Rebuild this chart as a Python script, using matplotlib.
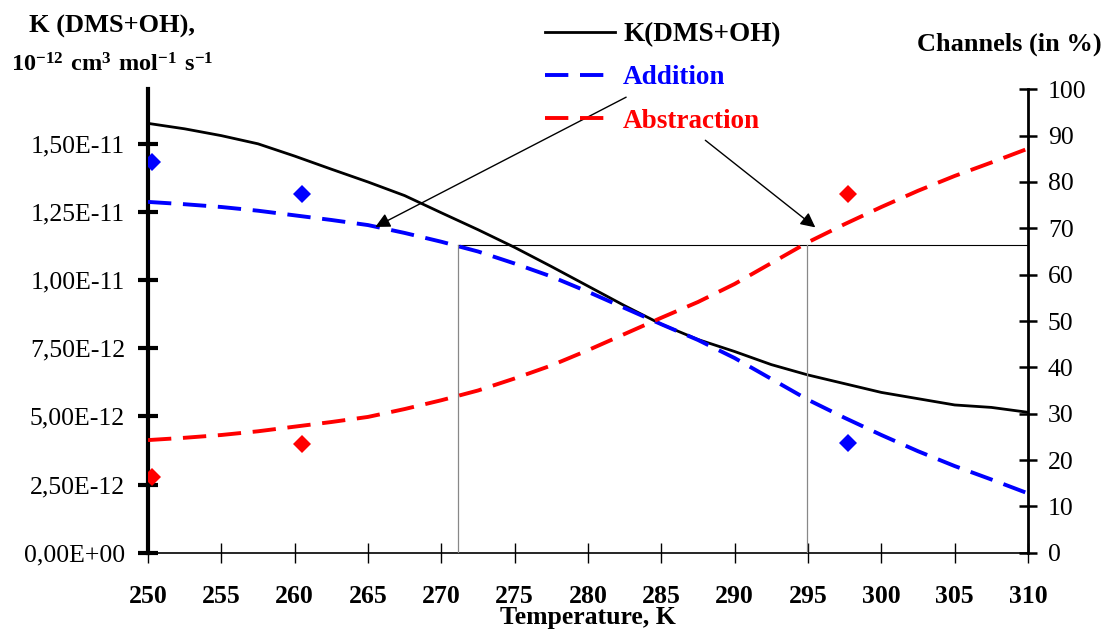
import numpy as np
import matplotlib
matplotlib.use("Agg")
import matplotlib.pyplot as plt
from matplotlib.ticker import FuncFormatter

plt.rcParams['font.family'] = ['Liberation Serif', 'DejaVu Serif']
plt.rcParams['mathtext.fontset'] = 'custom'
plt.rcParams['mathtext.rm'] = 'Liberation Serif'
plt.rcParams['mathtext.bf'] = 'Liberation Serif:bold'

# ---------------- data ----------------
temperature = [250, 252.5, 255, 257.5, 260, 262.5, 265, 267.5, 270, 272.5, 275, 277.5,
               280, 282.5, 285, 287.5, 290, 292.5, 295, 297.5, 300, 302.5, 305, 307.5, 310]
k_total_e12 = [15.75, 15.55, 15.3, 15.0, 14.55, 14.07, 13.6, 13.1, 12.47, 11.85, 11.2, 10.5,
               9.78, 9.06, 8.38, 7.82, 7.38, 6.9, 6.52, 6.2, 5.88, 5.65, 5.42, 5.33, 5.15]
addition_pct = [75.7, 75.2, 74.6, 73.8, 72.8, 71.8, 70.7, 69.0, 67.1, 65.0, 62.4, 59.6,
                56.3, 52.8, 49.3, 45.9, 42.0, 37.5, 33.0, 29.1, 25.4, 21.9, 18.7, 15.8, 12.8]
abstraction_pct = [24.3, 24.8, 25.4, 26.2, 27.2, 28.2, 29.3, 31.0, 32.9, 35.0, 37.6, 40.4,
                   43.7, 47.2, 50.7, 54.1, 58.0, 62.5, 67.0, 70.9, 74.6, 78.1, 81.3, 84.2, 87.2]

exp_temperature = [250.3, 260.5, 297.75]
exp_addition = [84.3, 77.3, 23.6]
exp_abstraction = [16.4, 23.5, 77.3]

# guide lines (channel = 66.3 %)
guide_level = 66.3
guide_temps = [271.15, 294.95]
# arrows: (tip T, tip %, start T, start %)
arrow_add = (265.5, 70.3, 282.6, 98.3)
arrow_abs = (295.5, 70.2, 288.0, 89.0)

x_ticks = list(range(250, 311, 5))
labels = ['K(DMS+OH)', 'Addition', 'Abstraction']
label_colors = ['black', 'blue', 'red']

# ---------------- figure ----------------
W, H = 1103, 633
fig = plt.figure(figsize=(W / 100, H / 100), dpi=100)
x0, x1, yb, yt = 148, 1028, 552.7, 89.3
ax = fig.add_axes([x0 / W, 1 - yb / H, (x1 - x0) / W, (yb - yt) / H])
ax2 = ax.twinx()

k_total = np.array(k_total_e12) * 1e-12
l_k, = ax.plot(temperature, k_total, color='black', lw=2.0, zorder=3)

l_add, = ax2.plot(temperature, addition_pct, color='blue', lw=2.8, dashes=(6, 3), zorder=3)
l_abs, = ax2.plot(temperature, abstraction_pct, color='red', lw=2.8, dashes=(6, 3), zorder=3)
ax2.plot(exp_temperature, exp_addition, ls='none', marker='D', ms=9, mew=0, color='blue', zorder=4)
ax2.plot(exp_temperature, exp_abstraction, ls='none', marker='D', ms=9, mew=0, color='red', zorder=4)

# guide lines
ax2.plot([guide_temps[0], 310], [guide_level, guide_level], color='black', lw=0.8, zorder=2)
for gt in guide_temps:
    ax2.plot([gt, gt], [0, guide_level], color='#888888', lw=0.9, zorder=2)

for tip_x, tip_y, st_x, st_y in (arrow_add, arrow_abs):
    ax2.annotate('', xy=(tip_x, tip_y), xytext=(st_x, st_y),
                 arrowprops=dict(arrowstyle='-|>', color='black', lw=1.0,
                                 mutation_scale=22, shrinkA=0, shrinkB=0), zorder=5)

# axes limits / ticks
ax.set_xlim(250, 310)
ax.set_ylim(0, 1.7e-11)
ax2.set_ylim(0, 100)
ax.set_xticks(x_ticks)
ax.set_yticks([i * 2.5e-12 for i in range(7)])
ax2.set_yticks(list(range(0, 101, 10)))
ax.yaxis.set_major_formatter(FuncFormatter(lambda v, p: f"{v:.2E}".replace('.', ',')))

for s in ['top', 'right']:
    ax.spines[s].set_visible(False)
for s in ['top', 'left', 'bottom']:
    ax2.spines[s].set_visible(False)
ax.spines['left'].set_linewidth(3.0)
ax.spines['bottom'].set_linewidth(1.2)
ax2.spines['right'].set_linewidth(2.0)

ax.tick_params(axis='x', direction='inout', length=14, width=1.0, pad=16,
               labelsize=18.5)
for lab in ax.get_xticklabels():
    lab.set_fontweight('bold')
ax.tick_params(axis='y', direction='inout', length=15, width=3.0, pad=9, labelsize=18.5)
ax2.tick_params(axis='y', direction='inout', length=12.5, width=1.8, pad=8, labelsize=18.5)

ax.set_xlabel('Temperature, K', fontsize=18.5, fontweight='bold', labelpad=-1)

# axis titles
fig.text(112 / W, 1 - 33 / H, 'K (DMS+OH),', ha='center', va='baseline',
         fontsize=19, fontweight='bold')
fig.text(112 / W, 1 - 72 / H, r'$\mathbf{10^{-12}\ cm^{3}\ mol^{-1}\ s^{-1}}$',
         ha='center', va='baseline', fontsize=17.5)
fig.text(1009 / W, 1 - 51 / H, 'Channels (in %)', ha='center', va='baseline',
         fontsize=19, fontweight='bold')

leg = ax2.legend([l_k, l_add, l_abs], labels, loc='upper left',
                 bbox_to_anchor=(545 / W, 1 - 22 / H), bbox_transform=fig.transFigure,
                 frameon=False, borderpad=0, borderaxespad=0, handlelength=2.58,
                 handletextpad=0.3, labelspacing=0.68,
                 prop={'size': 19.5, 'weight': 'bold'})
for t, c in zip(leg.get_texts(), label_colors):
    t.set_color(c)

fig.savefig('out.png', dpi=100)
